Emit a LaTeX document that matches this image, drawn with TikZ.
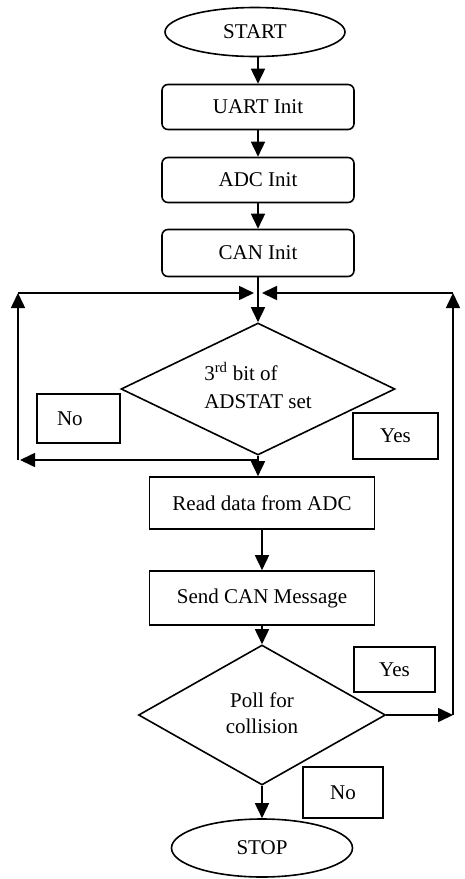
\documentclass[tikz,border=0pt]{standalone}
\usepackage{fontspec}
\setmainfont{Liberation Serif}
\usetikzlibrary{shapes.geometric,arrows.meta}

\begin{document}
\begin{tikzpicture}[x=1pt,y=-1pt,
  every node/.style={font=\fontsize{21}{26}\selectfont},
  base/.style={draw, line width=1.6pt, inner sep=0pt},
  term/.style={base, ellipse},
  proc/.style={base, rectangle, rounded corners=6pt},
  plainbox/.style={base, rectangle},
  decide/.style={base, diamond},
  tag/.style={base, rectangle},
  arr/.style={line width=1.6pt, -{Triangle[length=15pt,width=14pt]}},
  wire/.style={line width=1.6pt}]

\useasboundingbox (0,0) rectangle (464,879);

% initialisation chain
\node[term, minimum width=180pt, minimum height=49pt] (start) at (255,32) {START};
\node[proc, minimum width=192pt, minimum height=45pt] (uart) at (258,107) {UART Init};
\node[proc, minimum width=192pt, minimum height=45pt] (adc) at (258,180) {ADC Init};
\node[proc, minimum width=192pt, minimum height=47pt] (can) at (258,253) {CAN Init};

% ADC status check
\node[decide, minimum width=274pt, minimum height=132pt] (chk) at (258,389)
  {\smash{\raisebox{-5pt}{\begin{tabular}{@{}l@{}}3\textsuperscript{rd} bit of\\[2pt]ADSTAT set\end{tabular}}}};

% data path
\node[plainbox, minimum width=225pt, minimum height=52pt] (read) at (262,503) {Read data from ADC};
\node[plainbox, minimum width=225pt, minimum height=54pt] (send) at (262,598) {Send CAN Message};

% collision check
\node[decide, minimum width=247pt, minimum height=140pt] (poll) at (262,715)
  {\smash{\raisebox{-5pt}{\begin{tabular}{@{}c@{}}Poll for\\collision\end{tabular}}}};

\node[term, minimum width=181pt, minimum height=58pt] (stop) at (262,848) {STOP};

% branch labels
\node[tag, minimum width=83pt, minimum height=49pt, text width=43pt, inner xsep=20pt, align=left] (no1) at (78.5,418.5) {No};
\node[tag, minimum width=85pt, minimum height=46pt] (yes1) at (395.5,436) {Yes};
\node[tag, minimum width=81pt, minimum height=45pt] (yes2) at (394.5,669.5) {Yes};
\node[tag, minimum width=80pt, minimum height=51pt] (no2) at (343,792.5) {No};

% loop corners
\coordinate (jn) at (258,293);
\coordinate (lt) at (18,293);
\coordinate (lb) at (18,460);
\coordinate (rt) at (453,293);
\coordinate (rb) at (453,715);

% connectors
\draw[arr] (uart.north |- start.south) -- (uart.north);
\draw[arr] (uart.south) -- (adc.north);
\draw[arr] (adc.south) -- (can.north);
\draw[arr] (can.south) -- (chk.north);
\draw[arr] (chk.south) -- (chk.south |- read.north);
\draw[arr] (chk.south |- lb) -- ([xshift=2pt]lb);
\draw[arr] (lb) -- (lt);
\draw[arr] (lt) -- ([xshift=-4pt]jn);
\draw[arr] (read.south) -- (send.north);
\draw[arr] (send.south) -- (poll.north);
\draw[arr] (poll.east) -- (rb);
\draw[arr] (rb) -- (rt);
\draw[arr] (rt) -- ([xshift=4pt]jn);
\draw[arr] (poll.south) -- (stop.north);
\end{tikzpicture}
\end{document}
